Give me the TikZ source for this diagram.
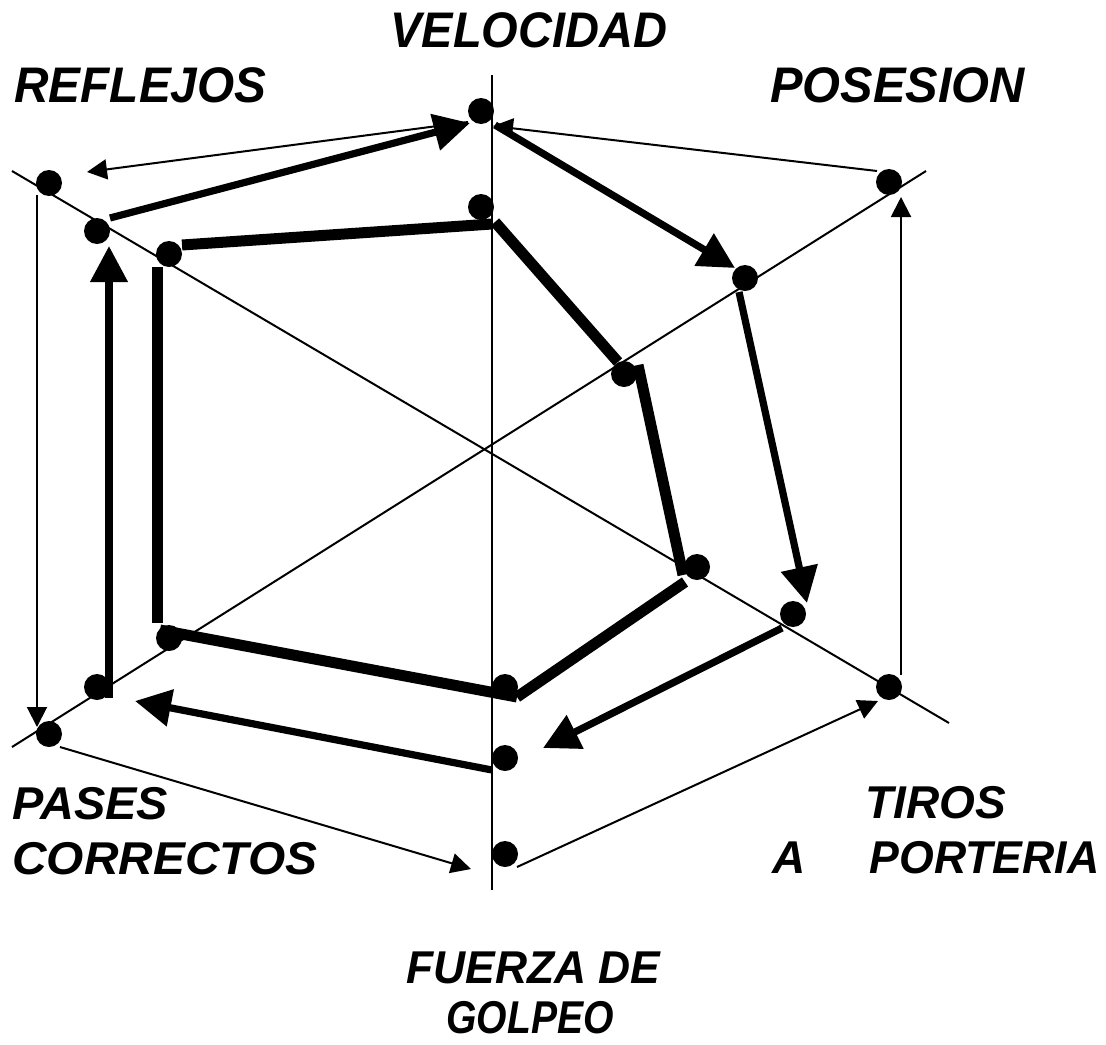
\documentclass[tikz,border=0pt]{standalone}
\usepackage{fontspec}
\usepackage{graphicx}
\setmainfont{Liberation Sans}
\usetikzlibrary{arrows.meta,calc}
\begin{document}
\begin{tikzpicture}[x=0.5pt,y=-0.5pt,
  dot/.style={circle,fill=black,inner sep=0pt,minimum size=13pt},
  axisline/.style={line width=1pt},
  thinarrow/.style={line width=1pt,-{Triangle[length=10pt,width=10pt]}},
  medarrow/.style={line width=3.6pt,-{Triangle[length=18pt,width=18pt]}},
  thickline/.style={line width=5.5pt},
  lbl/.style={font=\fontsize{23}{27}\selectfont\bfseries\itshape,inner sep=0pt,anchor=base west},
  toplbl/.style={lbl,font=\fontsize{25}{29}\selectfont\bfseries\itshape}]
\useasboundingbox (0,0) rectangle (1106,1044);
% axes
\coordinate (ax1a) at (492,75);  \coordinate (ax1b) at (492,890);
\coordinate (ax2a) at (12,171);  \coordinate (ax2b) at (949,723);
\coordinate (ax3a) at (12,747);  \coordinate (ax3b) at (926,171);
\draw[axisline] (ax1a) -- (ax1b);
\draw[axisline] (ax2a) -- (ax2b);
\draw[axisline] (ax3a) -- (ax3b);
% dots
\node[dot] (V0) at (481,111) {};
\node[dot] (V1) at (481,207) {};
\node[dot] (P0) at (889,182) {};
\node[dot] (P1) at (745,278) {};
\node[dot] (P2) at (624,374) {};
\node[dot] (T0) at (889,687) {};
\node[dot] (T1) at (793,614) {};
\node[dot] (T2) at (697,567) {};
\node[dot] (F0) at (505,854) {};
\node[dot] (F1) at (505,758) {};
\node[dot] (F2) at (505,687) {};
\node[dot] (S0) at (49,734) {};
\node[dot] (S1) at (97,687) {};
\node[dot] (S2) at (169,638) {};
\node[dot] (R0) at (49,183) {};
\node[dot] (R1) at (97,231) {};
\node[dot] (R2) at (169,254) {};
% thin arrows (outer)
\draw[thinarrow] ($(V0)+(-13,11)$) -- ($(R0)+(38,-11)$);
\draw[thinarrow] ($(P0)+(-12,-11)$) -- ($(V0)+(12,15)$);
\draw[thinarrow] ($(T0)+(12,-12)$) -- ($(P0)+(12,15)$);
\draw[thinarrow] ($(F0)+(12,13)$) -- ($(T0)+(-11,14)$);
\draw[thinarrow] ($(S0)+(11,13)$) -- ($(F0)+(-34,15)$);
\draw[thinarrow] ($(R0)+(-12,12)$) -- ($(S0)+(-12,-7)$);
% medium arrows (middle)
\draw[medarrow] ($(R1)+(13,-13)$) -- ($(V0)+(-11,12)$);
\draw[medarrow] ($(V0)+(14,14)$) -- ($(P1)+(-10,-10)$);
\draw[medarrow] ($(P1)+(-6,14)$) -- ($(T1)+(14,-11)$);
\draw[medarrow] ($(T1)+(-11,14)$) -- ($(F1)+(38,-10)$);
\draw[medarrow] ($(F1)+(-13,12)$) -- ($(S1)+(38,14)$);
\draw[medarrow] ($(S1)+(12,11)$) -- ($(R1)+(12,15)$);
% thick lines (inner)
\draw[thickline] ($(R2)+(13,-9)$) -- ($(V1)+(11,17)$);
\draw[thickline] ($(V1)+(14,15)$) -- ($(P2)+(-6,-12)$);
\draw[thickline] ($(P2)+(14,-9)$) -- ($(T2)+(-14,8)$);
\draw[thickline] ($(T2)+(-12,15)$) -- ($(F2)+(12,10)$);
\draw[thickline] ($(F2)+(12,10)$) -- ($(S2)+(-9,-8)$);
\draw[thickline] ($(S2)+(-12,-15)$) -- ($(R2)+(-12,13)$);
% labels
\node[toplbl] (lvel) at (390,47) {\scalebox{0.94}[1]{VELOCIDAD}};
\node[toplbl] (lref) at (14,102) {\scalebox{0.955}[1]{REFLEJOS}};
\node[toplbl] (lpos) at (770,102) {\scalebox{0.975}[1]{POSESION}};
\node[lbl] (lpas1) at (12,819) {\scalebox{1.02}[1]{PASES}};
\node[lbl] (lpas2) at (12,874) {\scalebox{1.04}[1]{CORRECTOS}};
\node[lbl] (ltir1) at (865,818) {TIROS};
\node[lbl] (ltir2) at (772,873) {A\hspace{32pt}\scalebox{0.97}[1]{PORTERIA}};
\node[lbl] (lfue1) at (406,983) {\scalebox{0.965}[1]{FUERZA DE}};
\node[lbl] (lfue2) at (446,1033) {\scalebox{0.85}[1]{GOLPEO}};
\end{tikzpicture}
\end{document}
